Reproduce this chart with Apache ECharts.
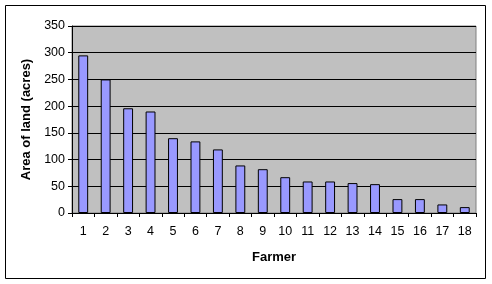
<!DOCTYPE html>
<html><head><meta charset="utf-8">
<script src="https://cdn.jsdelivr.net/npm/echarts@6/dist/echarts.min.js"></script>
<style>html,body{margin:0;padding:0;background:#fff}#c{width:492px;height:284px}</style>
</head><body><div id="c"></div>
<script>
const farmers = ['1','2','3','4','5','6','7','8','9','10','11','12','13','14','15','16','17','18'];
const acres = [295, 250, 196, 190, 140, 134, 119, 89, 82, 67, 59, 59, 56, 54, 26, 26, 16, 11];
const yTicks = [0, 50, 100, 150, 200, 250, 300, 350];

const chart = echarts.init(document.getElementById('c'), null, {renderer: 'canvas'});
const font = 'Liberation Sans, Arial, sans-serif';
chart.setOption({
  animation: false,
  backgroundColor: '#fff',
  grid: {left: 72, top: 26, right: 16, bottom: 71, show: true, backgroundColor: '#C0C0C0', borderColor: '#808080', borderWidth: 1},
  graphic: [{type: 'rect', shape: {x: 5.5, y: 5.5, width: 480, height: 273}, style: {fill: 'none', stroke: '#000', lineWidth: 1}, z: 100}],
  xAxis: {
    type: 'category', data: farmers,
    name: 'Farmer', nameLocation: 'middle', nameGap: 38,
    nameTextStyle: {fontFamily: font, fontWeight: 'bold', fontSize: 13, color: '#000'},
    axisLine: {lineStyle: {color: '#000', width: 1}},
    axisTick: {show: true, alignWithLabel: false, length: 4, lineStyle: {color: '#000'}},
    axisLabel: {fontFamily: font, fontSize: 12.5, color: '#000', margin: 12}
  },
  yAxis: {
    type: 'value', min: yTicks[0], max: yTicks[yTicks.length - 1], interval: yTicks[1] - yTicks[0],
    name: 'Area of land (acres)', nameLocation: 'middle', nameGap: 38,
    nameTextStyle: {fontFamily: font, fontWeight: 'bold', fontSize: 13, color: '#000'},
    axisLine: {show: true, lineStyle: {color: '#000', width: 1}},
    axisTick: {show: true, length: 4, lineStyle: {color: '#000'}},
    axisLabel: {fontFamily: font, fontSize: 12.5, color: '#000', margin: 7},
    splitLine: {show: true, lineStyle: {color: '#000', width: 1}}
  },
  series: [{
    type: 'bar', data: acres, barWidth: '44%',
    itemStyle: {color: '#9999FF', borderColor: '#000', borderWidth: 1}
  }]
});
</script></body></html>
